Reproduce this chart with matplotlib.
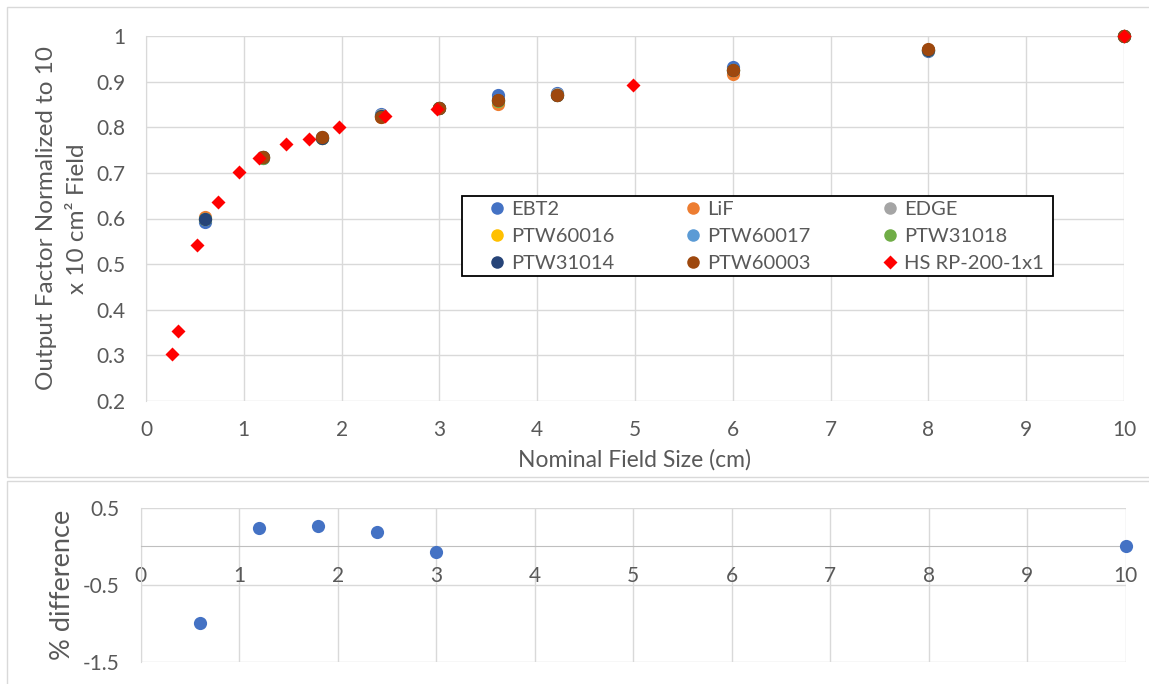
import matplotlib.pyplot as plt
from matplotlib.patches import Rectangle

plt.rcParams['font.family'] = ['Lato', 'DejaVu Sans']
plt.rcParams['axes.unicode_minus'] = False

# nominal field sizes measured by the detectors (cm)
field_sizes = [0.6, 1.2, 1.8, 2.4, 3.0, 3.6, 4.2, 6.0, 8.0, 10.0]

ebt2 = [0.593, 0.733, 0.778, 0.828, 0.843, 0.871, 0.874, 0.933, 0.967, 1.0]
lif = [0.604, 0.735, 0.776, 0.822, 0.842, 0.850, 0.871, 0.916, 0.970, 1.0]
edge = [0.598, 0.734, 0.778, 0.826, 0.843, 0.860, 0.872, 0.926, 0.970, 1.0]
ptw60016 = [0.600, 0.734, 0.777, 0.824, 0.842, 0.858, 0.871, 0.925, 0.970, 1.0]
ptw60017 = [0.599, 0.734, 0.777, 0.825, 0.842, 0.859, 0.871, 0.926, 0.970, 1.0]
ptw31018 = [0.599, 0.733, 0.777, 0.824, 0.842, 0.858, 0.871, 0.925, 0.970, 1.0]
ptw31014 = [0.600, 0.734, 0.777, 0.824, 0.842, 0.859, 0.871, 0.925, 0.970, 1.0]

ptw60003_sizes = [1.2, 1.8, 2.4, 3.0, 3.6, 4.2, 6.0, 8.0, 10.0]
ptw60003 = [0.734, 0.778, 0.823, 0.842, 0.859, 0.870, 0.926, 0.971, 1.0]

# HS RP-200 1x1 reference curve
hs_sizes = [0.27, 0.33, 0.52, 0.74, 0.95, 1.155, 1.43, 1.667, 1.973, 2.444, 2.98, 4.98, 10.0]
hs_output = [0.303, 0.354, 0.543, 0.637, 0.702, 0.733, 0.763, 0.775, 0.801, 0.825, 0.840, 0.893, 1.0]

# percent difference vs. reference
diff_sizes = [0.6, 1.2, 1.8, 2.4, 3.0, 10.0]
diff_pct = [-1.0, 0.24, 0.26, 0.19, -0.07, 0.0]

series = [
    ('EBT2', field_sizes, ebt2, '#4472C4'),
    ('LiF', field_sizes, lif, '#ED7D31'),
    ('EDGE', field_sizes, edge, '#A5A5A5'),
    ('PTW60016', field_sizes, ptw60016, '#FFC000'),
    ('PTW60017', field_sizes, ptw60017, '#5B9BD5'),
    ('PTW31018', field_sizes, ptw31018, '#70AD47'),
    ('PTW31014', field_sizes, ptw31014, '#264478'),
    ('PTW60003', ptw60003_sizes, ptw60003, '#9E480E'),
]

grid_c = '#D9D9D9'
text_c = '#595959'
W, H = 1149, 684

fig = plt.figure(figsize=(W / 100, H / 100), dpi=100)

# chart area frames
fig.patches.append(Rectangle((6.5 / W, 1 - 477 / H), 1.0, 470.5 / H, transform=fig.transFigure,
                             fill=False, edgecolor=grid_c, lw=1))
fig.patches.append(Rectangle((6.5 / W, 1 - 700 / H), 1.0, 219 / H, transform=fig.transFigure,
                             fill=False, edgecolor=grid_c, lw=1))

ax = fig.add_axes([146 / W, 1 - 401 / H, 978 / W, 365 / H])
handles = []
for name, xs, ys, c in series:
    h, = ax.plot(xs, ys, 'o', color=c, ms=9.5, mec='none', label=name, zorder=3, clip_on=False)
    handles.append(h)
h, = ax.plot(hs_sizes, hs_output, 'D', color='#FF0000', ms=7.6, mec='none',
             label='HS RP-200-1x1', zorder=4, clip_on=False)
handles.append(h)

ax.set_xlim(0, 10)
ax.set_ylim(0.2, 1.0)
ax.set_xticks(range(11))
ax.set_yticks([0.2, 0.3, 0.4, 0.5, 0.6, 0.7, 0.8, 0.9, 1.0])
ax.set_yticklabels(['0.2', '0.3', '0.4', '0.5', '0.6', '0.7', '0.8', '0.9', '1'])
ax.grid(True, color=grid_c, lw=1)
ax.set_axisbelow(True)
for s in ['top', 'right', 'bottom']:
    ax.spines[s].set_visible(False)
ax.spines['left'].set_color(grid_c)
ax.tick_params(length=0, labelsize=15, labelcolor=text_c, pad=15)
ax.tick_params(axis='x', pad=14)
ax.set_xlabel('Nominal Field Size (cm)', fontsize=16.5, color=text_c, labelpad=6)
ax.set_ylabel('Output Factor Normalized to 10\nx 10 cm² Field', fontsize=17.5, color=text_c,
              labelpad=6, linespacing=1.6)

# legend frame drawn separately, entries laid out row by row inside it
fig.patches.append(Rectangle((461.7 / W, 1 - 276 / H), 591 / W, 80.3 / H, transform=fig.transFigure,
                             fill=True, facecolor='white', edgecolor='black', lw=1.3, zorder=5))
order = [0, 3, 6, 1, 4, 7, 2, 5, 8]
leg = fig.legend([handles[i] for i in order], [handles[i].get_label() for i in order],
                 loc='center left', bbox_to_anchor=(486.5 / W, 1 - 236.5 / H, 557 / W, 0),
                 mode='expand', ncol=3, fontsize=14.5, frameon=False,
                 markerscale=0.95, handletextpad=0.2, handlelength=1.0,
                 labelspacing=0.5, borderpad=0, borderaxespad=0)
leg.set_zorder(6)
for t in leg.get_texts():
    t.set_color(text_c)

# percent difference panel
ax2 = fig.add_axes([140.7 / W, 1 - 661.7 / H, 985 / W, 154 / H])
ax2.plot(diff_sizes, diff_pct, 'o', color='#4472C4', ms=9.5, mec='none', zorder=3, clip_on=False)
ax2.set_xlim(0, 10)
ax2.set_ylim(-1.5, 0.5)
ax2.set_xticks(range(11))
ax2.set_yticks([-1.5, -0.5, 0.5])
ax2.set_yticklabels(['-1.5', '-0.5', '0.5'])
ax2.grid(True, color=grid_c, lw=1)
ax2.set_axisbelow(True)
for s in ['top', 'right']:
    ax2.spines[s].set_visible(False)
ax2.spines['left'].set_color(grid_c)
ax2.spines['bottom'].set_position(('data', 0))
ax2.spines['bottom'].set_color('#BFBFBF')
ax2.tick_params(length=0, labelsize=15, labelcolor=text_c, pad=15)
ax2.tick_params(axis='x', pad=14)
ax2.set_ylabel('% difference', fontsize=19.5, color=text_c, labelpad=6)

fig.savefig('out.png', dpi=100, facecolor='white')
